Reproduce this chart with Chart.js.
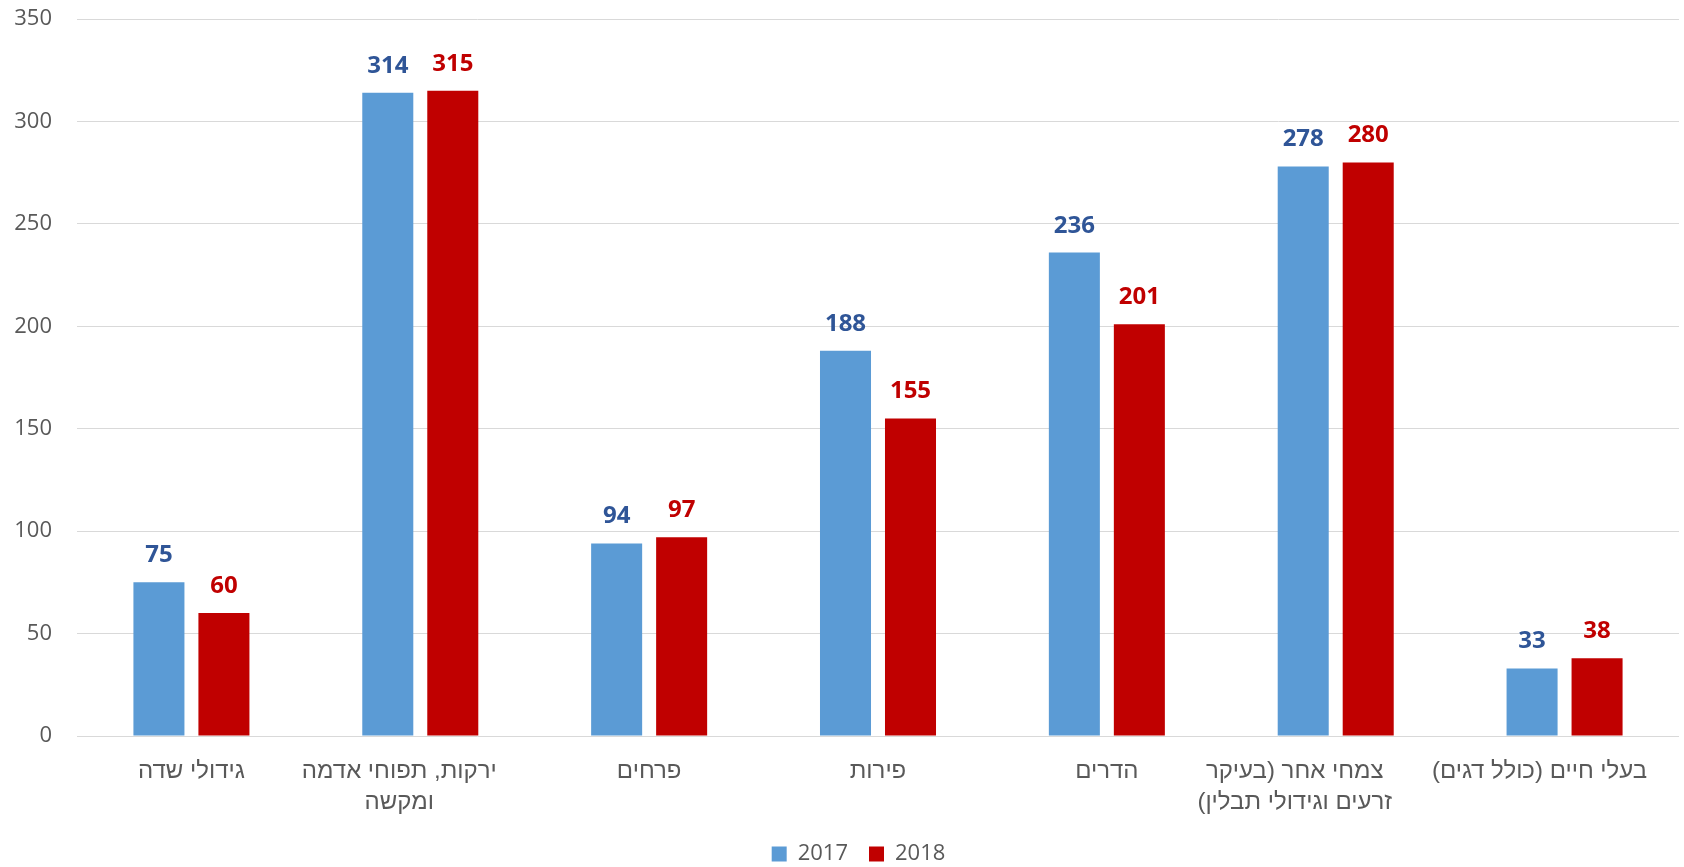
<!DOCTYPE html>
<html lang="he">
<head>
<meta charset="utf-8">
<script src="https://cdn.jsdelivr.net/npm/chart.js@4/dist/chart.umd.min.js"></script>
<style>
  html, body { margin: 0; padding: 0; background: #ffffff; }
  #wrap { position: relative; width: 1684px; height: 867px; }
  canvas { direction: rtl; }
</style>
</head>
<body>
<div id="wrap"><canvas id="c" dir="rtl"></canvas></div>
<script>
// ---- data ----
const categories = [
  ['גידולי שדה'],
  ['ירקות, תפוחי אדמה', 'ומקשה'],
  ['פרחים'],
  ['פירות'],
  ['הדרים'],
  ['צמחי אחר (בעיקר', 'זרעים וגידולי תבלין)'],
  ['בעלי חיים (כולל דגים)']
];
const seriesNames = ['2017', '2018'];
const values2017 = [75, 314, 94, 188, 236, 278, 33];
const values2018 = [60, 315, 97, 155, 201, 280, 38];
const yTickValues = [0, 50, 100, 150, 200, 250, 300, 350];

// ---- style ----
const BLUE = '#5B9BD5';
const RED = '#C00000';
const BLUE_LABEL = '#2F5597';
const RED_LABEL = '#C00000';
const TEXT = '#595959';
const GRID = '#D9D9D9';
const PLOT_BOTTOM = 736;
const LABEL_SHIFT = [0, -21, 0, 0, 0, -41, -25]; // visual x shift of category labels (Excel bidi quirk)

const valueLabels = {
  id: 'valueLabels',
  afterDatasetsDraw(chart) {
    const ctx = chart.ctx;
    ctx.save();
    ctx.font = 'bold 24px "Open Sans"';
    ctx.textAlign = 'center';
    ctx.textBaseline = 'alphabetic';
    chart.data.datasets.forEach((ds, di) => {
      const meta = chart.getDatasetMeta(di);
      ctx.fillStyle = di === 0 ? BLUE_LABEL : RED_LABEL;
      meta.data.forEach((bar, i) => {
        ctx.fillText(String(ds.data[i]), bar.x, bar.y - 20);
      });
    });
    ctx.restore();
  }
};

const categoryLabels = {
  id: 'categoryLabels',
  afterDraw(chart) {
    const ctx = chart.ctx;
    const xs = chart.scales.x;
    ctx.save();
    ctx.direction = 'rtl';
    ctx.font = '24px "Liberation Sans"';
    ctx.fillStyle = TEXT;
    ctx.textAlign = 'center';
    ctx.textBaseline = 'alphabetic';
    chart.data.labels.forEach((lines, i) => {
      const x = xs.getPixelForTick(i) + LABEL_SHIFT[i];
      lines.forEach((ln, k) => {
        ctx.fillText(ln, x, chart.chartArea.bottom + 42 + k * 31);
      });
    });
    ctx.restore();
  }
};

const legendMover = {
  id: 'legendMover',
  afterLayout(chart) {
    const lg = chart.legend;
    const h = lg.height;
    const pad = lg.options.labels.padding;
    const itemH = Math.max(lg.options.labels.font.size || 22, 15);
    lg.top = 854 - pad - itemH / 2;
    lg.bottom = lg.top + h;
    lg.left += 19;
    lg.right += 19;
  }
};

new Chart(document.getElementById('c'), {
  type: 'bar',
  data: {
    labels: categories,
    datasets: [
      { label: seriesNames[0], data: values2017, backgroundColor: BLUE, borderWidth: 0 },
      { label: seriesNames[1], data: values2018, backgroundColor: RED, borderWidth: 0 }
    ]
  },
  options: {
    responsive: true,
    maintainAspectRatio: false,
    animation: false,
    devicePixelRatio: 1,
    categoryPercentage: 0.568,
    barPercentage: 0.785,
    layout: { padding: { top: 19, right: 5, left: 0, bottom: 0 } },
    plugins: {
      tooltip: { enabled: false },
      legend: {
        position: 'bottom',
        labels: {
          boxWidth: 15,
          boxHeight: 15,
          padding: 21,
          color: TEXT,
          font: { family: '"Open Sans"', size: 22 }
        }
      }
    },
    scales: {
      x: {
        grid: { display: false, drawTicks: false },
        border: { display: false },
        ticks: { display: false },
        afterFit(scale) {
          const lg = scale.chart.legend;
          scale.height = scale.chart.height - (lg ? lg.height : 0) - PLOT_BOTTOM;
        }
      },
      y: {
        min: 0,
        max: 350,
        afterBuildTicks(scale) {
          scale.ticks = yTickValues.map(v => ({ value: v }));
        },
        grid: { color: GRID, lineWidth: 1, drawTicks: false },
        border: { display: false },
        ticks: {
          padding: 25,
          color: TEXT,
          font: { family: '"Open Sans"', size: 22, lineHeight: 1.2 }
        },
        afterFit(scale) {
          scale.width = 77;
          scale.paddingTop = 0;
          scale.paddingBottom = 0;
        }
      }
    }
  },
  plugins: [valueLabels, categoryLabels, legendMover]
});
</script>
</body>
</html>
